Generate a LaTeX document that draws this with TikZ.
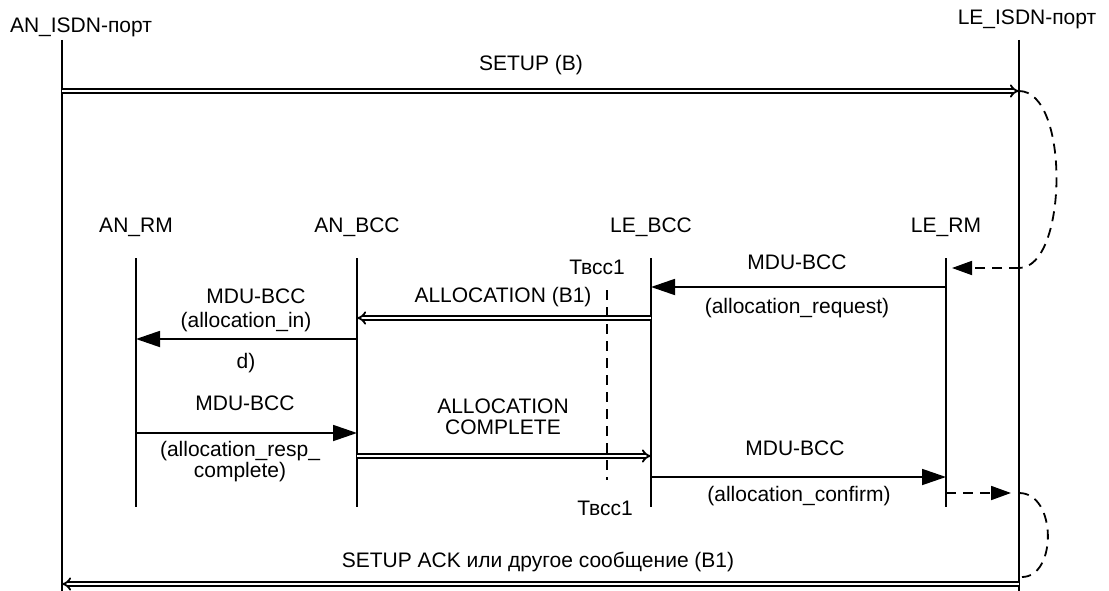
\documentclass[tikz,border=0pt]{standalone}
\usepackage{fontspec}
\setmainfont{Liberation Sans}
\usetikzlibrary{arrows.meta}
\begin{document}
\begin{tikzpicture}[x=1pt,y=-1pt,
  lbl/.style={font=\fontsize{21}{21}\selectfont, inner sep=0pt, align=center},
  life/.style={line width=1.8pt},
  sig/.style={line width=1.8pt,-{Triangle[length=24pt,width=16pt]}},
  dsig/.style={line width=1.8pt, double, double distance=2.5pt, -{Implies}},
  dsh/.style={line width=1.8pt, dash pattern=on 10pt off 7pt},
  dsharr/.style={dsh,-{Triangle[length=20pt,width=14pt]}}]
\useasboundingbox (0,0) rectangle (1109,591);
% headers
\node[lbl] (anp) at (81,27) {AN\_ISDN-порт};
\node[lbl] (lep) at (1027,19) {LE\_ISDN-порт};
\node[lbl] (anrm) at (136,227) {AN\_RM};
\node[lbl] (anbcc) at (357,227) {AN\_BCC};
\node[lbl] (lebcc) at (651,227) {LE\_BCC};
\node[lbl] (lerm) at (946,227) {LE\_RM};
% lifeline coordinates
\coordinate (anpT) at (62,40); \coordinate (anpB) at (62,591);
\coordinate (lepT) at (1019,40); \coordinate (lepB) at (1019,591);
\coordinate (anrmT) at (136,258); \coordinate (anrmB) at (136,507);
\coordinate (anbccT) at (357,258); \coordinate (anbccB) at (357,507);
\coordinate (lebccT) at (651,258); \coordinate (lebccB) at (651,507);
\coordinate (lermT) at (946,258); \coordinate (lermB) at (946,507);
\draw[life] (anpT) -- (anpB);
\draw[life] (lepT) -- (lepB);
\draw[life] (anrmT) -- (anrmB);
\draw[life] (anbccT) -- (anbccB);
\draw[life] (lebccT) -- (lebccB);
\draw[life] (lermT) -- (lermB);
% timer
\coordinate (tT) at (607,290); \coordinate (tB) at (607,480);
\draw[dsh] (tT) -- (tB);
\node[lbl] (t1) at (597,267) {Твсс1};
\node[lbl] (t2) at (605,508) {Твсс1};
% SETUP
\coordinate (s1) at (62,91); \coordinate (s2) at (1019,91);
\draw[dsig] (s1) -- (s2);
\node[lbl] (setup) at (531,65) {SETUP (B)};
% dashed loop 1
\coordinate (c1) at (1019,268); \coordinate (c1e) at (952,268);
\draw[dsh] (s2) .. controls (1070,91) and (1068,268) .. (c1);
\draw[dsharr] (c1) -- (c1e);
% m1
\coordinate (m1a) at (946,287); \coordinate (m1b) at (651,287);
\draw[sig] (m1a) -- (m1b);
\node[lbl] at (797,262) {MDU-BCC};
\node[lbl] at (797,308) {(allocation\_request)};
% m2
\coordinate (m2a) at (651,318); \coordinate (m2b) at (357,318);
\draw[dsig] (m2a) -- (m2b);
\node[lbl] at (503,297) {ALLOCATION (B1)};
% m3
\coordinate (m3a) at (357,339); \coordinate (m3b) at (136,339);
\draw[sig] (m3a) -- (m3b);
\node[lbl] at (256,296) {MDU-BCC};
\node[lbl] at (246,322) {(allocation\_in)};
\node[lbl] at (246,363) {d)};
% m4
\coordinate (m4a) at (136,433); \coordinate (m4b) at (357,433);
\draw[sig] (m4a) -- (m4b);
\node[lbl] at (245,403) {MDU-BCC};
\node[lbl] at (240,462) {(allocation\_resp\_\\complete)};
% m5
\coordinate (m5a) at (357,456); \coordinate (m5b) at (651,456);
\draw[dsig] (m5a) -- (m5b);
\node[lbl] at (503,417) {ALLOCATION\\COMPLETE};
% m6
\coordinate (m6a) at (651,477); \coordinate (m6b) at (946,477);
\draw[sig] (m6a) -- (m6b);
\node[lbl] at (795,448) {MDU-BCC};
\node[lbl] at (799,496) {(allocation\_confirm)};
% dashed loop 2
\coordinate (d2a) at (946,493); \coordinate (d2b) at (1011,493);
\coordinate (d2s) at (1019,493);
\draw[dsharr] (d2a) -- (d2b);
\coordinate (d2c) at (1022,577);
\draw[dsh] (d2s) .. controls (1057,493) and (1057,577) .. (d2c);
% SETUP ACK
\coordinate (k1) at (1019,584); \coordinate (k2) at (62,584);
\draw[dsig] (k1) -- (k2);
\node[lbl] at (538,562) {SETUP ACK или другое сообщение (B1)};
\end{tikzpicture}
\end{document}
